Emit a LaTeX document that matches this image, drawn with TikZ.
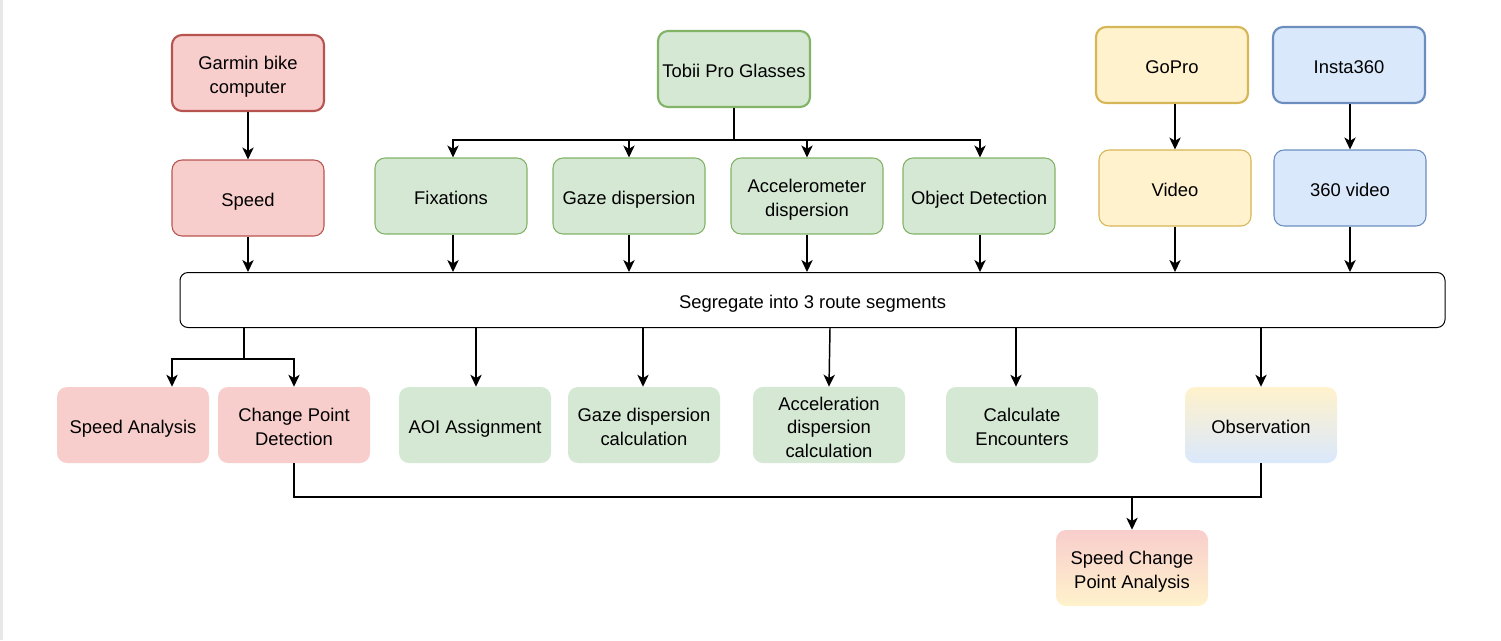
\documentclass[tikz,border=0pt]{standalone}
\usepackage{fontspec}
\setmainfont{Liberation Sans}
\usetikzlibrary{arrows.meta,calc}
\definecolor{redfill}{HTML}{F8CECC}
\definecolor{redline}{HTML}{B85450}
\definecolor{greenfill}{HTML}{D5E8D4}
\definecolor{greenline}{HTML}{82B366}
\definecolor{yellowfill}{HTML}{FFF2CC}
\definecolor{yellowline}{HTML}{D6B656}
\definecolor{bluefill}{HTML}{DAE8FC}
\definecolor{blueline}{HTML}{6C8EBF}
\newcommand{\mlines}[1]{\raisebox{0pt}[\dimexpr\height+3pt\relax][\dimexpr\depth-3pt\relax]{\begin{tabular}{@{}c@{}}#1\end{tabular}}}
\tikzset{
  box/.style={rectangle, rounded corners=7.5pt, align=center, inner sep=2pt,
    minimum width=152*0.75pt, minimum height=76*0.75pt,
    font=\fontsize{13.8}{17.7}\selectfont, text=black,
    execute at begin node={\rule{0pt}{15.9pt}},
    execute at end node={\rule[-3pt]{0pt}{3pt}}},
  thickline/.style={line width=1.6pt},
  thinline/.style={line width=0.8pt},
  redsrc/.style={box, fill=redfill, draw=redline, thickline},
  redbox/.style={box, fill=redfill, draw=redline, thinline},
  redplain/.style={box, fill=redfill},
  greensrc/.style={box, fill=greenfill, draw=greenline, thickline},
  greenbox/.style={box, fill=greenfill, draw=greenline, thinline},
  greenplain/.style={box, fill=greenfill},
  yellowsrc/.style={box, fill=yellowfill, draw=yellowline, thickline},
  yellowbox/.style={box, fill=yellowfill, draw=yellowline, thinline},
  bluesrc/.style={box, fill=bluefill, draw=blueline, thickline},
  bluebox/.style={box, fill=bluefill, draw=blueline, thinline},
  segbox/.style={rectangle, rounded corners=6pt, draw=black, line width=0.75pt,
    minimum width=1265*0.75pt, minimum height=55*0.75pt,
    font=\fontsize{13.8}{17.7}\selectfont,
    execute at begin node={\rule{0pt}{15.9pt}},
    execute at end node={\rule[-3pt]{0pt}{3pt}}},
  arr/.style={line width=1.1pt, -{Stealth[length=9pt,width=8.5pt,inset=2.5pt]}},
  ln/.style={line width=1.1pt},
}
\begin{document}
\begin{tikzpicture}[x=0.75pt,y=-0.75pt]
\useasboundingbox (0,0) rectangle (1501,640);
\fill[gray!18] (0,0) rectangle (3,640);
% sources
\node[redsrc] (garmin) at (248,73) {\mlines{Garmin bike\\computer}};
\node[greensrc] (tobii) at (734,69) {Tobii Pro Glasses};
\node[yellowsrc] (gopro) at (1172,65) {GoPro};
\node[bluesrc] (insta) at (1349,65) {Insta360};
% data
\node[redbox] (speed) at (248,198) {Speed};
\node[greenbox] (fix) at (451,196) {Fixations};
\node[greenbox] (gaze) at (629,196) {Gaze dispersion};
\node[greenbox] (acc) at (807,196) {\mlines{Accelerometer\\dispersion}};
\node[greenbox] (obj) at (979,196) {Object Detection};
\node[yellowbox] (video) at (1175,188) {Video};
\node[bluebox] (vid360) at (1350,188) {360 video};
% segregate
\node[segbox] (seg) at (812.5,300) {Segregate into 3 route segments};
% analyses
\node[redplain] (sa) at (133,425) {Speed Analysis};
\node[redplain] (cpd) at (294,425) {\mlines{Change Point\\Detection}};
\node[greenplain] (aoi) at (475,425) {AOI Assignment};
\node[greenplain] (gdc) at (644,425) {\mlines{Gaze dispersion\\calculation}};
\node[greenplain] (adc) at (829,425) {\mlines{Acceleration\\dispersion\\calculation}};
\node[greenplain] (enc) at (1022,425) {\mlines{Calculate\\Encounters}};
\node[box, top color=yellowfill, bottom color=bluefill] (obs) at (1261,425) {Observation};
\node[box, top color=redfill, bottom color=yellowfill] (scpa) at (1132,568) {\mlines{Speed Change\\Point Analysis}};
% connectors top
\draw[arr] (garmin) -- (speed);
\draw[arr] (gopro.south -| video) -- (video);
\draw[arr] (insta.south -| vid360) -- (vid360);
\coordinate (tj) at (tobii.south |- 0,140);
\draw[ln] (tobii.south) -- (tj);
\draw[arr] (tj) -| ($(fix.north)+(2,0)$);
\draw[arr] (tj) -| (gaze.north);
\draw[arr] (tj) -| (acc.north);
\draw[arr] (tj) -| ($(obj.north)+(1,0)$);
% into segregate
\draw[arr] (speed) -- (seg.north -| speed);
\draw[arr] ($(fix.south)+(2,0)$) -- (seg.north -| 453,0);
\draw[arr] (gaze) -- (seg.north -| gaze);
\draw[arr] (acc) -- (seg.north -| acc);
\draw[arr] ($(obj.south)+(1,0)$) -- (seg.north -| 980,0);
\draw[arr] (video) -- (seg.north -| video);
\draw[arr] (vid360) -- (seg.north -| vid360);
% out of segregate
\coordinate (sj) at (244,359);
\draw[ln] (seg.south -| sj) -- (sj);
\draw[arr] (sj) -| (sa.north -| 172,0);
\draw[arr] (sj) -| (cpd.north);
\draw[arr] (seg.south -| 476,0) -- (aoi.north -| 476,0);
\draw[arr] (seg.south -| 643,0) -- (gdc.north -| 643,0);
\draw[arr] (seg.south -| 830,0) -- (adc.north -| 829,0);
\draw[arr] (seg.south -| 1016,0) -- (enc.north -| 1016,0);
\draw[arr] (seg.south -| obs) -- (obs.north);
% bottom merge
\coordinate (bj) at (1132,497);
\draw[ln] (cpd.south) |- (bj);
\draw[ln] (obs.south) |- (bj);
\draw[arr] (bj) -- (scpa.north);
\end{tikzpicture}
\end{document}
